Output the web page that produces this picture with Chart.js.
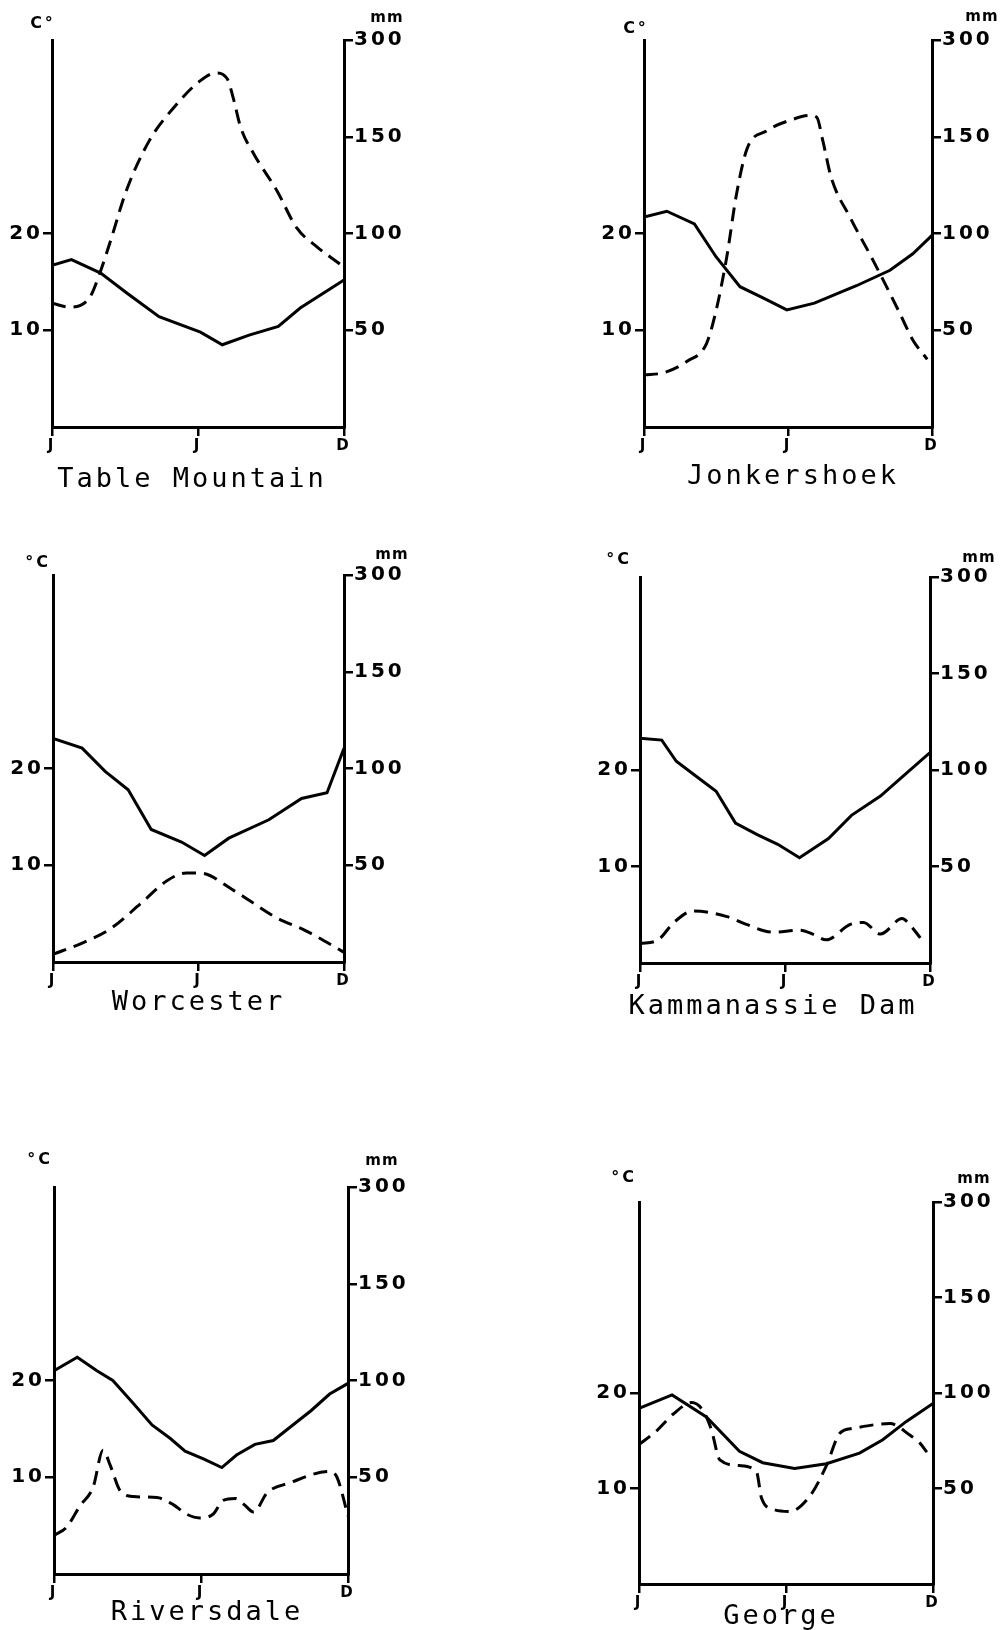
<!DOCTYPE html>
<html>
<head>
<meta charset="utf-8">
<script src="https://cdn.jsdelivr.net/npm/chart.js@4.4.0/dist/chart.umd.min.js"></script>
<style>
  body { margin: 0; background: #fff; width: 1007px; height: 1630px; position: relative; overflow: hidden; }
  canvas { position: absolute; }
</style>
</head>
<body>
<canvas id="c1"></canvas>
<canvas id="c2"></canvas>
<canvas id="c3"></canvas>
<canvas id="c4"></canvas>
<canvas id="c5"></canvas>
<canvas id="c6"></canvas>
<script>
// x axis runs in months: 0 = start of January, 12 = end of December
const monthTicks = [0, 6, 12];
const monthLabels = ['J', 'J', 'D'];
const tempTicks = [10, 20];
// rain axis is broken at the top: the last tick stands for 300 mm
const rainTicks = [50, 100, 150, 200];
const rainTickLabels = ['50', '100', '150', '300'];

// Table Mountain
const tableTempX = [0, 0.8, 2.0, 3.1, 4.4, 6.1, 7.0, 8.1, 9.3, 10.2, 12];
const tableTemp  = [16.7, 17.3, 15.9, 13.8, 11.4, 9.8, 8.5, 9.5, 10.4, 12.3, 15.2];
const tableRainX = [0, 0.7, 1.55, 1.95, 2.4, 3.05, 4.0, 5.0, 6.1, 6.75, 7.2, 7.45, 7.75, 8.3, 9.25, 10.05, 10.9, 11.85];
const tableRain  = [64, 62, 67, 79, 96, 122, 148, 165, 179, 183, 180, 170, 155, 141, 122, 103, 93, 84];

// Jonkershoek
const jonkTempX = [0, 0.95, 2.1, 3.0, 4.0, 5.0, 5.95, 7.1, 8.85, 10.25, 11.2, 12];
const jonkTemp  = [21.7, 22.3, 21.0, 17.6, 14.5, 13.3, 12.1, 12.8, 14.6, 16.2, 17.9, 19.8];
const jonkRainX = [0, 0.8, 1.8, 2.6, 3.0, 3.45, 3.85, 4.3, 5.1, 6.2, 6.9, 7.2, 7.45, 7.8, 8.6, 9.55, 10.65, 11.2, 11.8];
const jonkRain  = [27, 28, 34, 43, 60, 88, 120, 144, 153, 159, 161, 160, 148, 129, 108, 86, 59, 45, 35];

// Worcester
const worcTempX = [0, 1.2, 2.15, 3.1, 4.05, 5.3, 6.25, 7.25, 8.9, 10.25, 11.3, 12];
const worcTemp  = [23.1, 22.1, 19.7, 17.8, 13.7, 12.4, 11.0, 12.8, 14.7, 16.9, 17.5, 22.1];
const worcRainX = [0, 1.25, 2.35, 3.6, 4.7, 5.5, 6.05, 7.45, 9.2, 10.45, 12];
const worcRain  = [4, 10, 17, 30, 42, 46, 46, 37, 23, 16, 5];

// Kammanassie Dam
const kammTempX = [0, 0.9, 1.5, 2.35, 3.15, 3.95, 4.85, 5.7, 6.6, 7.8, 8.75, 9.95, 10.9, 12];
const kammTemp  = [23.3, 23.1, 20.9, 19.3, 17.8, 14.5, 13.3, 12.3, 10.9, 12.9, 15.3, 17.3, 19.4, 21.8];
const kammRainX = [0, 0.75, 1.4, 2.2, 3.6, 4.4, 5.5, 6.6, 7.15, 7.7, 8.7, 9.25, 9.95, 10.85, 11.15, 11.6];
const kammRain  = [10, 12, 21, 27, 24, 20, 16, 17, 15, 12, 20, 21, 15, 23, 20, 13];

// Riversdale
const rivTempX = [0, 0.95, 1.75, 2.4, 3.25, 4.0, 4.75, 5.35, 6.1, 6.85, 7.45, 8.2, 8.95, 9.75, 10.5, 11.25, 12];
const rivTemp  = [21.0, 22.4, 21.0, 20.0, 17.6, 15.4, 14.0, 12.7, 11.9, 11.0, 12.3, 13.4, 13.8, 15.4, 16.9, 18.6, 19.7];
const rivRainX = [0, 0.5, 1.05, 1.6, 2.0, 2.3, 2.7, 3.25, 4.2, 4.85, 5.4, 5.95, 6.5, 6.9, 7.4, 7.75, 8.15, 8.7, 9.6, 11.25, 11.55, 12];
const rivRain  = [20, 24, 35, 45, 64, 56, 43, 40, 39.5, 36, 31, 29, 31, 38, 39, 36, 32, 42, 47, 53, 50, 30];

// George
const georgeTempX = [0, 1.35, 2.75, 4.1, 5.05, 6.35, 7.65, 9.0, 9.95, 10.9, 12];
const georgeTemp  = [18.4, 19.8, 17.5, 13.9, 12.7, 12.1, 12.6, 13.7, 15.1, 17.0, 18.9];
const georgeRainX = [0, 0.7, 1.4, 2.15, 2.6, 2.95, 3.3, 4.1, 4.8, 5.0, 5.5, 6.15, 7.0, 7.65, 8.2, 8.75, 10.25, 11.05, 11.45, 11.75];
const georgeRain  = [73, 80, 89, 95, 91, 81, 65, 62, 58.5, 45, 39, 38, 46.5, 62, 79, 81.5, 84, 78, 74, 69];

// where each plot box sits on the page, and small per-panel label nudges
const panels = [
  { id: 'c1', name: 'Table Mountain', tx: tableTempX, t: tableTemp, rx: tableRainX, r: tableRain,
    left: 52, right: 344, top: 40, bottom: 427, leftW: 87, titlePad: 20, unit: 'C°', uOff: [-9, -16], mOff: [43, -22] },
  { id: 'c2', name: 'Jonkershoek', tx: jonkTempX, t: jonkTemp, rx: jonkRainX, r: jonkRain,
    left: 644, right: 932, top: 40, bottom: 427, leftW: 65, titlePad: 17, unit: 'C°', uOff: [-8, -11], mOff: [50, -23] },
  { id: 'c3', name: 'Worcester', tx: worcTempX, t: worcTemp, rx: worcRainX, r: worcRain,
    left: 53, right: 344, top: 575, bottom: 962, leftW: 75, titlePad: 8, unit: '°C', uOff: [-15, -12], mOff: [48, -20] },
  { id: 'c4', name: 'Kammanassie Dam', tx: kammTempX, t: kammTemp, rx: kammRainX, r: kammRain,
    left: 640, right: 930, top: 577, bottom: 963, leftW: 99, titlePad: 11, unit: '°C', uOff: [-21, -17], mOff: [49, -19] },
  { id: 'c5', name: 'Riversdale', tx: rivTempX, t: rivTemp, rx: rivRainX, r: rivRain,
    left: 54, right: 348, top: 1187, bottom: 1574, leftW: 63, titlePad: 6, unit: '°C', uOff: [-14, -27], mOff: [34, -26] },
  { id: 'c6', name: 'George', tx: georgeTempX, t: georgeTemp, rx: georgeRainX, r: georgeRain,
    left: 639, right: 933, top: 1202, bottom: 1584, leftW: 85, titlePad: 0, unit: '°C', uOff: [-15, -24], mOff: [41, -23] }
];

const RIGHT_W = 75, TOP_PAD = 40, X_H = 26, TITLE_SIZE = 27, TITLE_LH = 0.5;

// wide lettering like the original stencil text
const spacing = {
  id: 'spacing',
  beforeLayout(chart) { chart.ctx.letterSpacing = '3px'; },
  beforeDraw(chart) { chart.ctx.letterSpacing = '3px'; }
};

const unitLabels = {
  id: 'unitLabels',
  afterDraw(chart, args, opts) {
    const ctx = chart.ctx, a = chart.chartArea;
    ctx.save();
    ctx.fillStyle = '#000';
    ctx.textAlign = 'center';
    ctx.textBaseline = 'middle';
    ctx.font = 'bold 16px "DejaVu Sans"';
    ctx.fillText(opts.unit, a.left + opts.uOff[0], a.top + opts.uOff[1]);
    ctx.font = 'bold 15px "DejaVu Sans"';
    ctx.letterSpacing = '1px';
    ctx.fillText('mm', a.right + opts.mOff[0], a.top + opts.mOff[1]);
    ctx.restore();
  }
};

const tickFont = { family: 'DejaVu Sans', weight: 'bold', size: 20 };
const tickMarks = { drawOnChartArea: false, drawTicks: true, tickLength: 9, color: '#000', lineWidth: 2.5 };
const axisLine = { display: true, color: '#000', width: 3 };

panels.forEach(p => {
  const cv = document.getElementById(p.id);
  const plotW = p.right - p.left, plotH = p.bottom - p.top;
  const titleH = p.titlePad + TITLE_SIZE * TITLE_LH;
  const h = Math.ceil(TOP_PAD + plotH + X_H + titleH + 20);
  cv.width = p.leftW + plotW + RIGHT_W;
  cv.height = h;
  cv.style.left = (p.left - p.leftW) + 'px';
  cv.style.top = (p.top - TOP_PAD) + 'px';

  new Chart(cv, {
    type: 'line',
    data: {
      datasets: [
        {
          label: 'Temperature',
          data: p.tx.map((x, i) => ({ x: x, y: p.t[i] })),
          yAxisID: 'y',
          borderColor: '#000',
          borderWidth: 3,
          pointRadius: 0,
          tension: 0
        },
        {
          label: 'Rainfall',
          data: p.rx.map((x, i) => ({ x: x, y: p.r[i] })),
          yAxisID: 'y1',
          borderColor: '#000',
          borderWidth: 3,
          borderDash: [14, 8],
          pointRadius: 0,
          cubicInterpolationMode: 'monotone'
        }
      ]
    },
    options: {
      responsive: false,
      animation: false,
      layout: { padding: { top: TOP_PAD, left: 0, right: 0, bottom: h - (TOP_PAD + plotH + X_H + titleH) } },
      scales: {
        x: {
          type: 'linear',
          min: 0,
          max: 12,
          afterBuildTicks: s => { s.ticks = monthTicks.map(v => ({ value: v })); },
          afterFit: s => { s.height = X_H; },
          ticks: {
            color: '#000',
            padding: 1,
            maxRotation: 0,
            autoSkip: false,
            font: { family: 'DejaVu Sans', weight: 'bold', size: 15 },
            callback: (v) => monthLabels[monthTicks.indexOf(v)]
          },
          grid: tickMarks,
          border: axisLine
        },
        y: {
          position: 'left',
          min: 0,
          max: 40,
          afterBuildTicks: s => { s.ticks = tempTicks.map(v => ({ value: v })); },
          afterFit: s => { s.width = p.leftW; },
          ticks: { color: '#000', padding: 0, font: tickFont },
          grid: tickMarks,
          border: axisLine
        },
        y1: {
          position: 'right',
          min: 0,
          max: 200,
          afterBuildTicks: s => { s.ticks = rainTicks.map(v => ({ value: v })); },
          afterFit: s => { s.width = RIGHT_W; },
          ticks: {
            color: '#000',
            padding: 1,
            font: tickFont,
            callback: (v) => rainTickLabels[rainTicks.indexOf(v)]
          },
          grid: tickMarks,
          border: axisLine
        }
      },
      plugins: {
        legend: { display: false },
        tooltip: { enabled: false },
        title: {
          display: true,
          position: 'bottom',
          text: p.name,
          color: '#000',
          font: { family: 'DejaVu Sans Mono', size: TITLE_SIZE, weight: 'normal', lineHeight: TITLE_LH },
          padding: { top: p.titlePad, bottom: 0 }
        },
        unitLabels: { unit: p.unit, uOff: p.uOff, mOff: p.mOff }
      }
    },
    plugins: [spacing, unitLabels]
  });
});
</script>
</body>
</html>
